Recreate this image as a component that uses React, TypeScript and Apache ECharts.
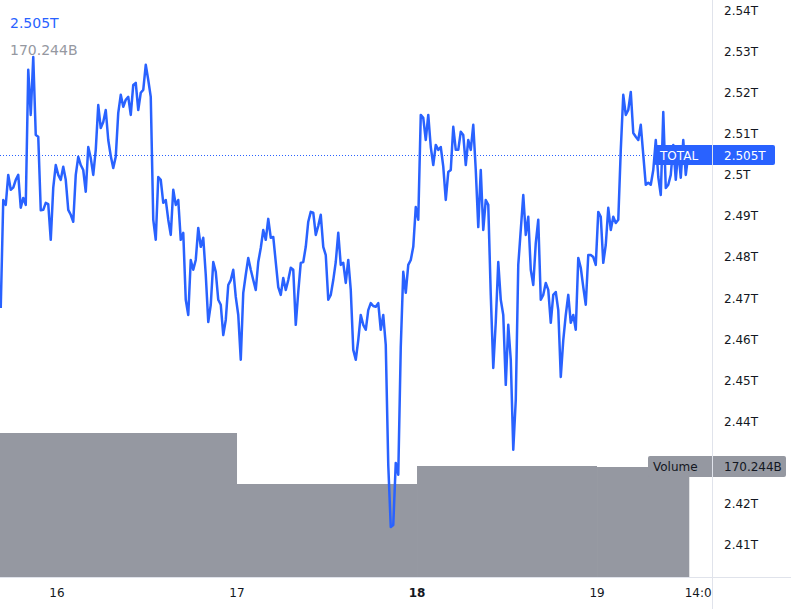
import React, { useEffect, useRef } from 'react';
import * as echarts from 'echarts';

// Time axis in hours relative to day "16" 00:00; one sample every 20 minutes
const startHour = -7.5;
const stepHours = 1 / 3;

// TOTAL crypto market cap, billions USD
const totalB = [
  2467.7, 2494.0, 2492.8, 2500.1, 2496.5, 2497.0, 2498.9, 2500.1, 2492.1, 2494.5,
  2492.8, 2525.7, 2514.7, 2528.8, 2509.8, 2509.4, 2491.5, 2491.6, 2493.3, 2493.0,
  2484.3, 2497.0, 2502.5, 2500.1, 2498.9, 2502.1, 2498.9, 2491.6, 2490.4, 2488.7,
  2500.1, 2504.5, 2502.5, 2501.3, 2496.0, 2506.9, 2504.2, 2500.1, 2506.2, 2517.1,
  2511.5, 2513.0, 2515.9, 2508.6, 2504.7, 2501.8, 2504.5, 2515.2, 2519.6, 2516.7,
  2518.4, 2519.1, 2514.7, 2522.0, 2522.5, 2515.9, 2520.1, 2520.8, 2526.9, 2523.2,
  2519.1, 2489.2, 2484.3, 2499.6, 2498.9, 2493.3, 2494.0, 2489.2, 2485.5, 2496.5,
  2492.8, 2494.0, 2484.3, 2486.0, 2469.7, 2466.0, 2479.4, 2477.0, 2479.4, 2487.2,
  2482.6, 2484.8, 2475.8, 2464.3, 2468.5, 2478.9, 2476.5, 2469.7, 2468.5, 2461.1,
  2464.8, 2473.3, 2474.5, 2477.0, 2470.4, 2466.0, 2455.1, 2471.4, 2475.8, 2479.9,
  2477.0, 2474.5, 2472.1, 2478.9, 2482.3, 2486.7, 2484.3, 2489.4, 2484.8, 2485.0,
  2478.9, 2472.8, 2470.9, 2475.0, 2472.1, 2474.5, 2477.5, 2477.0, 2463.6, 2471.6,
  2478.7, 2478.9, 2482.6, 2488.7, 2491.1, 2490.9, 2485.5, 2487.7, 2490.4, 2482.6,
  2480.6, 2469.7, 2470.9, 2474.5, 2478.9, 2486.0, 2478.2, 2478.7, 2473.8, 2479.4,
  2472.1, 2457.5, 2455.1, 2459.9, 2466.0, 2463.6, 2462.4, 2467.2, 2468.9, 2468.2,
  2468.0, 2468.9, 2462.4, 2466.0, 2458.7, 2429.5, 2414.4, 2414.9, 2430.0, 2427.1,
  2458.2, 2476.5, 2471.4, 2478.2, 2479.4, 2482.6, 2492.3, 2489.2, 2514.7, 2514.0,
  2508.6, 2514.7, 2506.9, 2502.5, 2507.4, 2506.2, 2506.9, 2502.1, 2494.0, 2500.8,
  2501.3, 2511.8, 2506.2, 2506.2, 2510.6, 2509.8, 2502.5, 2508.6, 2506.2, 2512.3,
  2501.3, 2487.4, 2501.3, 2486.7, 2494.0, 2492.8, 2470.9, 2453.1, 2464.3, 2478.9,
  2469.7, 2466.0, 2449.0, 2463.6, 2455.1, 2433.2, 2445.3, 2478.2, 2486.7, 2495.2,
  2485.5, 2489.9, 2477.0, 2473.3, 2483.5, 2489.2, 2469.7, 2470.9, 2473.8, 2472.1,
  2464.1, 2470.9, 2471.6, 2467.2, 2450.9, 2459.9, 2466.0, 2470.9, 2464.1, 2466.0,
  2462.4, 2479.9, 2477.5, 2472.8, 2468.5, 2480.6, 2480.6, 2480.1, 2478.2, 2491.1,
  2489.9, 2478.7, 2483.1, 2492.1, 2486.7, 2489.9, 2488.4, 2489.2, 2506.2, 2519.6,
  2514.7, 2515.9, 2520.3, 2510.3, 2509.4, 2508.6, 2512.3, 2505.0, 2497.7, 2498.2,
  2497.7, 2501.3, 2508.6, 2499.6, 2495.2, 2515.4, 2496.9, 2497.7, 2500.1, 2507.4,
  2498.9, 2506.2, 2499.4, 2508.6, 2500.1, 2505.0,
];

// Daily volume blocks (billions USD)
const volStartHours = [-7.6, 24, 48, 72];
const volEndHours = [24, 48, 72, 84.3];
const volumesB = [222.8, 143.9, 171.8, 170.244];

const xTickHours = [0, 24, 48, 72, 86];
const xTickLabels = ['16', '17', '18', '19', '14:00'];
const boldTickLabel = '18';
// 2.43T sits under the volume tag in the reference, so it is not listed
const yTicksB = [2410, 2420, 2440, 2450, 2460, 2470, 2480, 2490, 2500, 2510, 2520, 2530, 2540];

const symbolName = 'TOTAL';
const volumeName = 'Volume';

const FONT = 'DejaVu Sans';
const BLUE = '#2962FF';
const GRAY = '#9598A1';
const TEXT = '#131722';

const fmtT = (vB: number) => `${parseFloat((vB / 1000).toFixed(3))}T`;
const fmtB = (vB: number) => `${vB.toFixed(3)}B`;

export default function App() {
  const ref = useRef<HTMLDivElement>(null);

  useEffect(() => {
    if (!ref.current) return;
    const chart = echarts.init(ref.current, undefined, { renderer: 'svg' });

    const lineData = totalB.map((v, i) => [startHour + i * stepHours, v]);
    const volData = volumesB.map((v, i) => [volStartHours[i], volEndHours[i], v]);
    const last = totalB[totalB.length - 1];
    const lastVol = volumesB[volumesB.length - 1];

    chart.setOption({
      animation: false,
      backgroundColor: '#ffffff',
      grid: { left: 0, right: 79, top: 0, bottom: 32, outerBoundsMode: 'none' } as any,
      xAxis: {
        type: 'value',
        min: -7.6,
        max: 87.33,
        axisLine: { show: false },
        axisTick: { show: false },
        splitLine: { show: false },
        axisLabel: {
          customValues: xTickHours,
          margin: 10,
          color: TEXT,
          fontFamily: FONT,
          fontSize: 12,
          formatter: (v: number) => {
            const i = xTickHours.indexOf(v);
            const s = i >= 0 ? xTickLabels[i] : '';
            return s === boldTickLabel ? `{b|${s}}` : s;
          },
          rich: { b: { fontWeight: 'bold', color: TEXT, fontFamily: FONT, fontSize: 12 } },
        },
      },
      yAxis: [
        {
          type: 'value',
          position: 'right',
          min: 2402.22,
          max: 2542.68,
          axisLine: { show: false },
          axisTick: { show: false },
          splitLine: { show: false },
          axisLabel: {
            customValues: yTicksB,
            margin: 12,
            color: TEXT,
            fontFamily: FONT,
            fontSize: 12,
            formatter: (v: number) => fmtT(v),
          },
        },
        { type: 'value', min: 0, max: 893, show: false },
      ],
      series: [
        {
          type: 'custom',
          yAxisIndex: 1,
          z: 1,
          data: volData,
          encode: { x: [0, 1], y: 2 },
          renderItem: (params: any, api: any) => {
            const p1 = api.coord([api.value(0), api.value(2)]);
            const p2 = api.coord([api.value(1), 0]);
            return {
              type: 'rect',
              shape: { x: p1[0], y: p1[1], width: p2[0] - p1[0], height: p2[1] - p1[1] },
              style: { fill: GRAY },
            };
          },
        },
        {
          type: 'line',
          z: 3,
          data: lineData,
          showSymbol: false,
          symbol: 'none',
          lineStyle: { color: BLUE, width: 2.5, join: 'round' },
          markLine: {
            silent: true,
            symbol: ['none', 'none'],
            label: { show: false },
            lineStyle: { color: BLUE, width: 1, type: [1, 2] },
            data: [{ yAxis: last }],
          },
        },
      ],
      graphic: [
        {
          type: 'text', x: 10, y: 23, z: 100,
          style: { text: fmtT(last), fill: BLUE, font: `14px "${FONT}"`, verticalAlign: 'middle' },
        },
        {
          type: 'text', x: 10, y: 50, z: 100,
          style: { text: fmtB(lastVol), fill: GRAY, font: `14px "${FONT}"`, verticalAlign: 'middle' },
        },
        {
          type: 'rect', z: 100,
          shape: { x: 654, y: 145, width: 121, height: 20, r: 2 },
          style: { fill: BLUE },
        },
        {
          type: 'text', x: 660, y: 155.5, z: 101,
          style: { text: symbolName, fill: '#ffffff', font: `12px "${FONT}"`, verticalAlign: 'middle' },
        },
        {
          type: 'text', x: 724, y: 155.5, z: 101,
          style: { text: fmtT(last), fill: '#ffffff', font: `12px "${FONT}"`, verticalAlign: 'middle' },
        },
        {
          type: 'rect', z: 100,
          shape: { x: 648, y: 456, width: 138, height: 21, r: 2 },
          style: { fill: GRAY },
        },
        {
          type: 'text', x: 653, y: 467, z: 101,
          style: { text: volumeName, fill: TEXT, font: `12px "${FONT}"`, verticalAlign: 'middle' },
        },
        {
          type: 'text', x: 724, y: 467, z: 101,
          style: { text: fmtB(lastVol), fill: TEXT, font: `12px "${FONT}"`, verticalAlign: 'middle' },
        },
        {
          type: 'rect', z: 99,
          shape: { x: 713, y: 578, width: 78, height: 31 },
          style: { fill: '#ffffff' },
        },
        {
          type: 'line', z: 102,
          shape: { x1: 712.5, y1: 0, x2: 712.5, y2: 609 },
          style: { stroke: '#E0E3EB', lineWidth: 1 },
        },
        {
          type: 'line', z: 102,
          shape: { x1: 0, y1: 577.5, x2: 791, y2: 577.5 },
          style: { stroke: '#E0E3EB', lineWidth: 1 },
        },
      ],
    });

    return () => chart.dispose();
  }, []);

  return (
    <div
      ref={ref}
      style={{ position: 'fixed', left: 0, top: 0, width: 791, height: 609, background: '#fff' }}
    />
  );
}
